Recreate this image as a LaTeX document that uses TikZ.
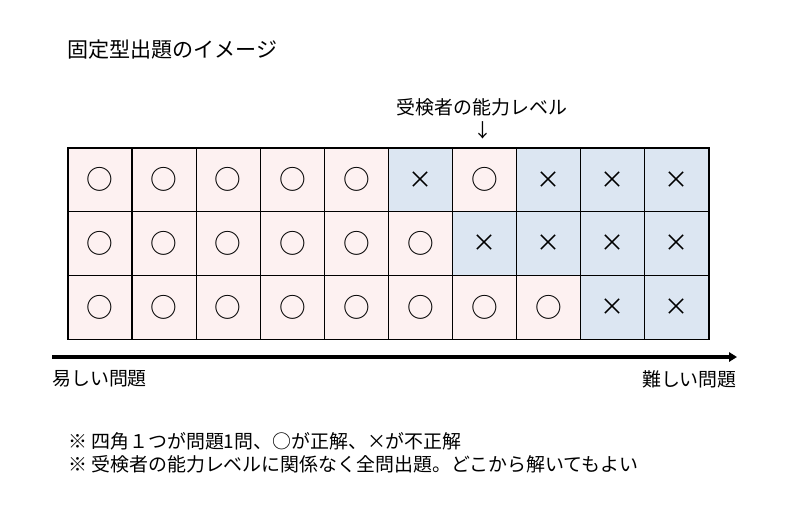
\documentclass[tikz,border=0pt]{standalone}
\usepackage{fontspec}
\setmainfont{Noto Sans CJK JP}
\usetikzlibrary{arrows.meta}
\definecolor{okfill}{HTML}{FDF1F1}
\definecolor{ngfill}{HTML}{DCE6F2}
\begin{document}
\begin{tikzpicture}[x=0.75pt,y=-0.75pt,
  cell/.style={draw=black, line width=0.9pt, minimum width=48.1pt, minimum height=47.8pt,
    inner sep=0pt, outer sep=0pt, font=\fontsize{20}{20}\selectfont},
  ok/.style={cell, fill=okfill, execute at begin node={○}},
  ng/.style={cell, fill=ngfill, execute at begin node={\fontsize{18}{18}\selectfont ×}},
  lbl/.style={font=\fontsize{14.2}{17}\selectfont, inner sep=0pt}]
\useasboundingbox[fill=white] (0,0) rectangle (790,515);
\node[lbl, font=\fontsize{15.8}{18}\selectfont, anchor=west] (title) at (67,50) {固定型出題のイメージ};
\foreach \c/\s in {1/ok,2/ok,3/ok,4/ok,5/ok,6/ng,7/ok,8/ng,9/ng,10/ng}
  \node[\s] (a\c) at ({68+64.1*(\c-0.5)},{148+63.7*0.5}) {};
\foreach \c/\s in {1/ok,2/ok,3/ok,4/ok,5/ok,6/ok,7/ng,8/ng,9/ng,10/ng}
  \node[\s] (b\c) at ({68+64.1*(\c-0.5)},{148+63.7*1.5}) {};
\foreach \c/\s in {1/ok,2/ok,3/ok,4/ok,5/ok,6/ok,7/ok,8/ok,9/ng,10/ng}
  \node[\s] (c\c) at ({68+64.1*(\c-0.5)},{148+63.7*2.5}) {};
\node[lbl] (level) at (482,107) {受検者の能力レベル};
\node[lbl] (down) at (483,130) {↓};
\coordinate (s) at (52,357);
\coordinate (e) at (737,357);
\draw[line width=2.4pt, -{Triangle[length=6pt,width=7pt]}] (s) -- (e);
\node[lbl, anchor=west] (easy) at (52,379) {易しい問題};
\node[lbl, anchor=east] (hard) at (737,379) {難しい問題};
\node[lbl, anchor=west] (n1) at (68,441) {※ 四角１つが問題1問、○が正解、×が不正解};
\node[lbl, anchor=west] (n2) at (68,464) {※ 受検者の能力レベルに関係なく全問出題。どこから解いてもよい};
\end{tikzpicture}
\end{document}
